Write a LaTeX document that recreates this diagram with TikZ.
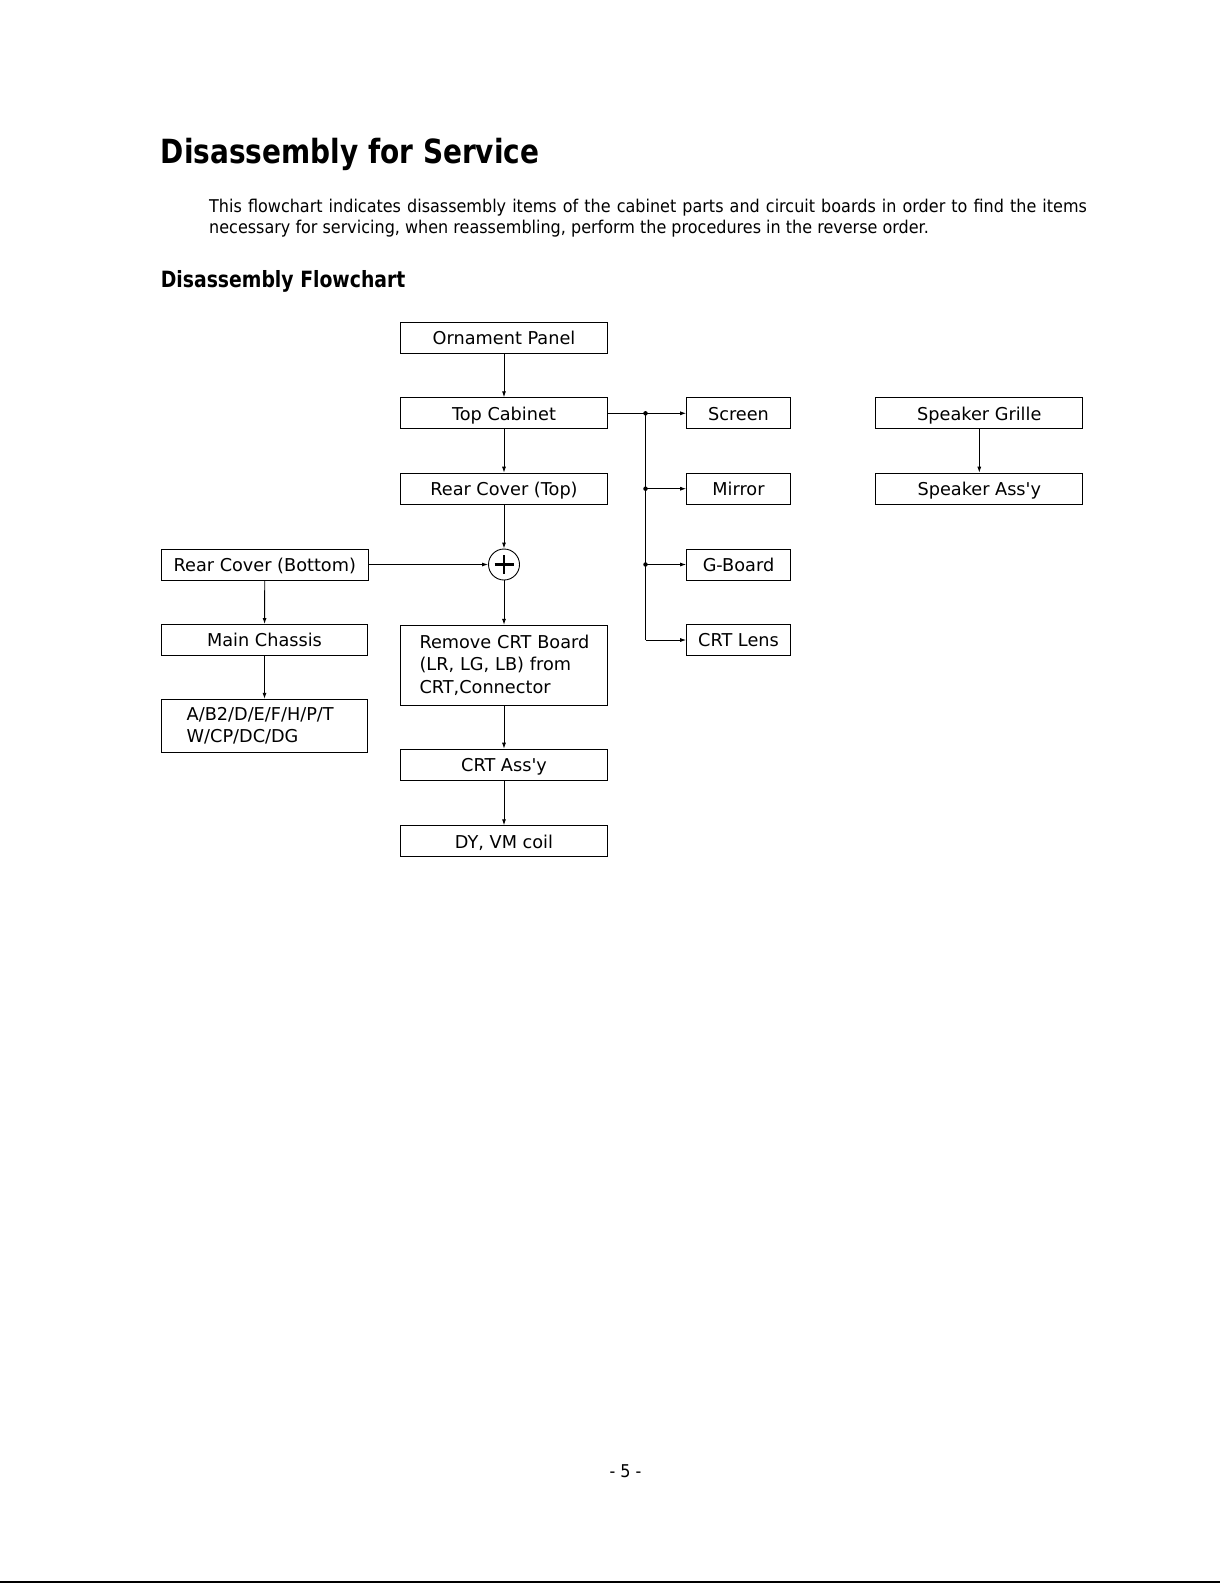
\documentclass[tikz,border=0pt]{standalone}
\usepackage{fontspec}
\setmainfont{DejaVu Sans}
\newfontfamily\titlefont[FakeStretch=0.84]{DejaVu Sans}
\newfontfamily\parafont[FakeStretch=0.91]{DejaVu Sans}
\newfontfamily\boxfont{DejaVu Sans}
\usetikzlibrary{arrows.meta}
\begin{document}
\begin{tikzpicture}[x=1pt,y=-1pt,
  boxbase/.style={draw,line width=1pt,minimum width=207pt,minimum height=31pt,inner sep=0pt,
    font=\boxfont\fontsize{17.7}{22.8}\selectfont},
  box/.style={boxbase,text height=13.8pt,text depth=0pt},
  sbox/.style={box,minimum width=103.6pt},
  arr/.style={line width=0.9pt,-{Latex[length=6pt,width=4pt]}},
  ln/.style={line width=0.9pt},
  dot/.style={circle,fill,inner sep=0pt,minimum size=4.5pt}]
\useasboundingbox (0,0) rectangle (1220,1583);

% texts
\node[anchor=base west,inner sep=0pt,font=\titlefont\bfseries\fontsize{33.3}{40}\selectfont] (title) at (160.6,163.6) {Disassembly for Service};
\node[anchor=base west,inner sep=0pt,font=\parafont\fontsize{17.6}{21}\selectfont] (p1) at (209,212)
  {\makebox[877.7pt][s]{This flowchart indicates disassembly items of the cabinet parts and circuit boards in order to find the items}};
\node[anchor=base west,inner sep=0pt,font=\parafont\fontsize{17.6}{21}\selectfont] (p2) at (209,233)
  {necessary for servicing, when reassembling, perform the procedures in the reverse order.};
\node[anchor=base west,inner sep=0pt,font=\titlefont\bfseries\fontsize{22.4}{27}\selectfont] (sub) at (160.6,287) {Disassembly Flowchart};
\node[anchor=base,inner sep=0pt,font=\parafont\fontsize{17.6}{21}\selectfont] (pn) at (625.5,1477) {- 5 -};

% centre column
\node[box] (orn) at (504,338) {Ornament Panel};
\node[box] (top) at (504,413.3) {Top Cabinet};
\node[box] (rct) at (504,488.7) {Rear Cover (Top)};
\node[draw,circle,minimum size=31pt,inner sep=0pt,line width=0.9pt] (plus) at (504,564.5) {};
\draw[line width=2.2pt] ([xshift=-9.5pt]plus.center) -- ([xshift=9.5pt]plus.center);
\draw[line width=2.2pt] ([yshift=-9.5pt]plus.center) -- ([yshift=9.5pt]plus.center);
\node[boxbase,minimum height=79.7pt,text width=207pt,align=left] (rem) at (504,665.2)
  {\hspace*{19pt}Remove CRT Board\\\hspace*{19pt}(LR, LG, LB) from\\\hspace*{19pt}CRT,Connector};
\node[box] (crt) at (504,764.7) {CRT Ass'y};
\node[box] (dy) at (504,841.3) {DY, VM coil};

% left column
\node[box] (rcb) at (264.8,564.5) {Rear Cover (Bottom)};
\node[box,minimum width=205.6pt] (mc) at (264.5,640) {Main Chassis};
\node[boxbase,minimum width=205.6pt,minimum height=53pt,text width=205.6pt,align=left,
  font=\boxfont\fontsize{17.7}{22.3}\selectfont] (ab) at (264.5,725.8)
  {\hspace*{25pt}A/B2/D/E/F/H/P/T\\\hspace*{25pt}W/CP/DC/DG};

% right column
\node[sbox] (scr) at (738.5,413.3) {Screen};
\node[sbox] (mir) at (738.5,488.7) {Mirror};
\node[sbox] (gb) at (738.5,564.5) {G-Board};
\node[sbox] (lens) at (738.5,640) {CRT Lens};

% speaker
\node[box] (sg) at (979.3,413.3) {Speaker Grille};
\node[box] (sa) at (979.3,488.7) {Speaker Ass'y};

% connectors
\draw[arr] (orn) -- (top);
\draw[arr] (top) -- (rct);
\draw[arr] (rct) -- (plus);
\draw[arr] (rcb.east) -- (plus.west);
\draw[arr] (plus) -- (rem);
\draw[arr] (rem) -- (crt);
\draw[arr] (crt) -- (dy);
\draw[arr] (rcb) -- (mc);
\draw[arr] (mc) -- (ab);
\draw[arr] (sg) -- (sa);

\coordinate (j1) at (645.5,413.3);
\coordinate (j2) at (645.5,488.7);
\coordinate (j3) at (645.5,564.5);
\coordinate (j4) at (645.5,640);
\draw[arr] (top.east) -- (scr.west);
\draw[ln] (j1) -- (j4);
\draw[arr] (j2) -- (mir.west);
\draw[arr] (j3) -- (gb.west);
\draw[arr] (j4) -- (lens.west);
\node[dot] (d1) at (j1) {};
\node[dot] (d2) at (j2) {};
\node[dot] (d3) at (j3) {};

% bottom rule
\fill (0,1580.8) rectangle (1220,1583);
\end{tikzpicture}
\end{document}
